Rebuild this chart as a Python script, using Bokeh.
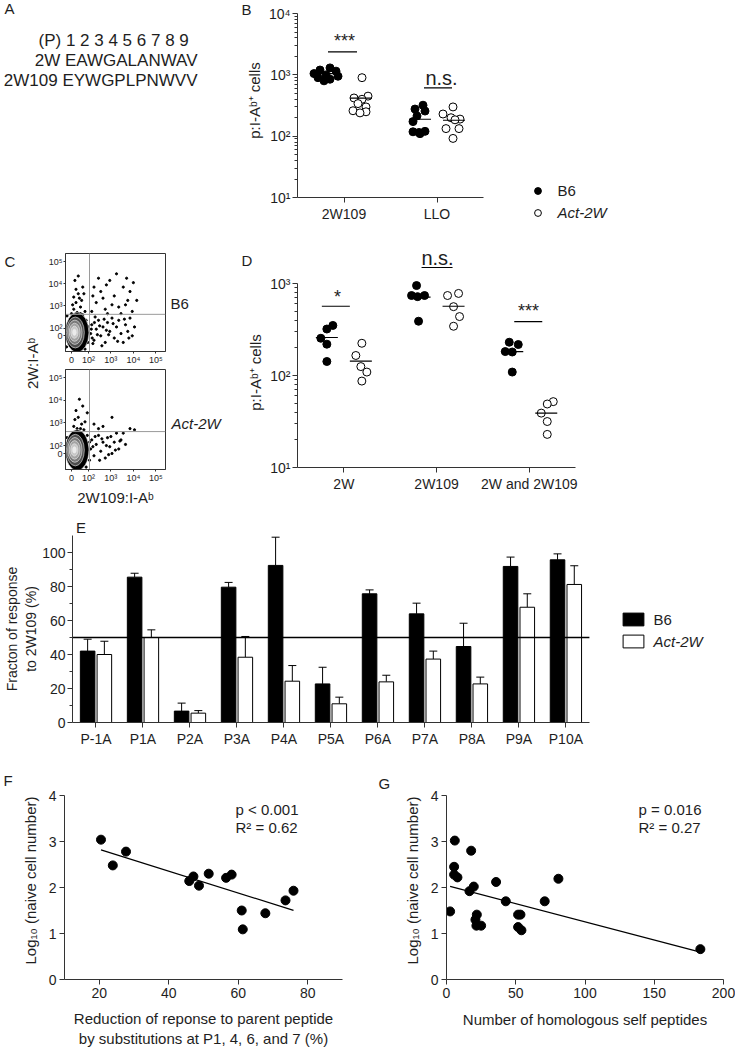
import numpy as np
from bokeh.plotting import figure
from bokeh.layouts import column, row
from bokeh.models import (Label, Legend, LegendItem, FixedTicker, Range1d,
                          Whisker, ColumnDataSource, TeeHead)
from bokeh.core.properties import value
from bokeh.embed import file_html
from bokeh.resources import INLINE

FONT = "Liberation Sans"
INK = "#1e1e1e"
AX = "#333333"

# ---------------- data ----------------
# Panel A
seq_header = "(P)  1 2 3 4 5 6 7 8 9"
seq_2w = "2W EAWGALANWAV"
seq_2w109 = "2W109 EYWGPLPNWVV"

# Panel B (p:I-Ab+ cells)
b_groups = ["2W109", "LLO"]
b_b6_2w109 = [1300, 1200, 1150, 1050, 1000, 950, 900, 850, 800]
b_act_2w109 = [900, 450, 420, 400, 340, 300, 260, 250, 240]
b_b6_llo = [320, 277, 257, 214, 173, 120, 115, 118, 110]
b_act_llo = [300, 230, 200, 190, 185, 133, 133, 92]
b_b6_mean = [1050, 189]
b_act_mean = [417, 182]
b_sig = ["***", "n.s."]
b_sig_y = [2380, 612]

# Panel D
d_groups = ["2W", "2W109", "2W and 2W109"]
d_b6_2w = [350, 320, 254, 219, 142]
d_act_2w = [224, 165, 125, 109, 87]
d_b6_2w109 = [950, 740, 720, 740, 389]
d_act_2w109 = [740, 780, 560, 437, 343]
d_b6_both = [230, 217, 182, 180, 109]
d_act_both = [52, 49, 39, 31.6, 22.9]
d_b6_mean = [259, 710, 182]
d_act_mean = [143, 566, 39]
d_sig = ["*", "n.s.", "***"]
d_sig_y = [566, 1493, 386]

# Panel E
e_peptides = ["P-1A", "P1A", "P2A", "P3A", "P4A", "P5A", "P6A", "P7A", "P8A", "P9A", "P10A"]
e_b6 = [42, 85.5, 6.7, 79.6, 92.4, 22.7, 75.7, 63.9, 44.7, 91.8, 95.7]
e_b6_sem = [7, 2.3, 4.7, 2.8, 16.6, 9.8, 2.3, 6.3, 13.7, 5.5, 3.5]
e_act = [40, 50, 5.5, 38.4, 24.3, 11, 23.9, 37.3, 22.7, 67.8, 81.2]
e_act_sem = [7.8, 4.5, 1.5, 12.2, 9.2, 3.9, 3.9, 4.7, 4.0, 7.9, 11.0]
e_threshold = 50

# Panel F
f_reduction = [20.5, 23.9, 27.7, 45.9, 47.1, 48.7, 51.5, 56.5, 58.1, 61.0, 61.3, 67.8, 73.6, 75.9]
f_log_naive = [3.04, 2.48, 2.78, 2.14, 2.24, 2.04, 2.30, 2.21, 2.28, 1.50, 1.09, 1.44, 1.72, 1.93]
f_stats = ["p < 0.001", "R\u00b2 = 0.62"]

# Panel G
g_homologs = [6.0, 17.8, 5.5, 5.5, 7.9, 2.6, 16.6, 19.7, 35.8, 21.9, 20.9, 21.6, 25.0,
              42.8, 51.7, 53.4, 51.7, 54.1, 70.9, 80.8, 183.3]
g_log_naive = [3.02, 2.80, 2.45, 2.28, 2.22, 1.48, 1.92, 2.02, 2.12, 1.41, 1.30, 1.17, 1.17,
               1.70, 1.41, 1.41, 1.14, 1.07, 1.70, 2.19, 0.66]
g_stats = ["p = 0.016", "R\u00b2 = 0.27"]

# Panel C (flow cytometry, display units)
flow_x_ticks = [0, 0.75, 1.75, 2.75, 3.75]
flow_y_ticks = [0, 0.35, 1.35, 2.35, 3.35]
flow_tick_labels = ["0", "10\u00b2", "10\u00b3", "10\u2074", "10\u2075"]
flow_gate_x = 0.8
flow_gate_y = 0.97
flow_b6_events = [
    (0.1, 1.2), (0.2, 1.5), (0.3, 1.9), (0.4, 1.3), (0.5, 2.2), (0.15, 2.5), (0.35, 1.7),
    (0.6, 1.1), (0.25, 1.05), (0.45, 1.6), (0.05, 1.4), (0.55, 1.9), (0.3, 2.7), (0.4, 1.0),
    (0.2, 2.1), (0.1, 1.75),
    (0.9, 1.1), (1.1, 1.5), (1.3, 2.0), (1.5, 1.2), (1.7, 2.5), (1.9, 1.8), (2.1, 1.3),
    (2.3, 2.2), (2.5, 1.6), (2.7, 1.1), (1.2, 2.6), (1.6, 1.0), (2.0, 2.8), (2.4, 1.4),
    (1.8, 1.4), (1.4, 1.7), (2.6, 2.0), (1.0, 2.2), (2.2, 1.0), (2.9, 1.6), (1.55, 2.3),
    (2.45, 2.6), (0.95, 1.8), (2.75, 2.4),
    (0.85, 0.1), (0.9, 0.5), (1.0, -0.2), (1.1, 0.3), (1.2, 0.7), (1.3, 0.0), (1.4, 0.4),
    (1.5, -0.3), (1.6, 0.6), (1.7, 0.2), (1.8, 0.8), (1.9, -0.1), (2.0, 0.4), (2.1, 0.7),
    (2.2, 0.1), (2.3, -0.3), (2.4, 0.5), (2.5, 0.2), (2.6, 0.8), (2.7, 0.0), (2.8, 0.4),
    (1.05, 0.85), (1.35, -0.45), (1.55, 0.25), (0.95, -0.35), (1.25, 0.45), (1.65, 0.05),
    (1.85, 0.55), (2.05, -0.25), (1.45, 0.75), (0.88, 0.3), (0.92, -0.1), (1.02, 0.6),
    (1.15, 0.05), (2.35, 0.75), (2.55, -0.1),
    (-0.2, 0.9), (0.65, 0.7), (0.7, 0.1), (0.72, -0.3), (-0.22, -0.5), (0.6, -0.6),
    (0.0, 1.0), (0.5, 0.95), (0.75, 0.4), (-0.25, 0.3),
]
flow_act_events = [
    (0.1, 1.2), (0.3, 1.6), (0.5, 2.1), (0.2, 1.9), (0.4, 1.1), (0.6, 1.4), (0.35, 2.4),
    (0.55, 1.05), (0.7, 1.8), (0.15, 1.5), (0.45, 1.3), (0.25, 1.1),
    (1.0, 1.3), (1.2, 1.1), (1.8, 1.6), (2.6, 1.1), (2.8, 1.05), (1.4, 1.2),
    (0.85, 0.2), (0.9, 0.6), (1.0, -0.1), (1.1, 0.4), (1.2, 0.8), (1.3, 0.1), (1.4, 0.5),
    (1.5, -0.2), (1.6, 0.7), (1.7, 0.3), (1.8, 0.0), (1.9, 0.5), (2.0, 0.9), (2.1, 0.2),
    (2.2, 0.6), (2.3, 0.9), (2.4, 0.4), (1.05, 0.75), (1.25, -0.3), (1.55, 0.35),
    (1.75, 0.75), (1.95, 0.15), (2.15, 0.55), (0.95, 0.3), (1.35, 0.65), (1.65, -0.05),
    (0.7, 0.8), (0.75, 0.2), (0.8, -0.3), (-0.2, 0.7), (0.65, -0.6), (0.8, 0.5),
]
flow_contour_cx = [0.25, 0.17, 0.15, 0.14, 0.13, 0.13]
flow_contour_cy = [0.15, 0.15, 0.16, 0.16, 0.16, 0.16]
flow_contour_w = [1.05, 0.80, 0.64, 0.48, 0.32, 0.16]
flow_contour_h = [1.80, 1.40, 1.10, 0.82, 0.55, 0.28]
flow_contour_fill = ["#000000", "#4d4d4d", "#7a7a7a", "#a3a3a3", "#c8c8c8", "#ebebeb"]

# ------------- jitter / layout (pixels) -------------
b_b6_dx = [[-14, -24, -8, -30, -18, -6, -26, -14, -20], [-14, -22, -12, -20, -24, -12, -18, -24, -17]]
b_act_dx = [[18, 24, 10, 18, 14, 22, 9, 22, 16], [16, 6, 14, 23, 18, 9, 22, 16]]
d_b6_dx = [[-11, -17, -23, -17, -17], [-20, -25, -19, -12, -18], [-20, -11, -24, -17, -17]]
d_act_dx = [[18, 12, 17, 23, 18], [11, 22, 17, 23, 17], [24, 18, 12, 18, 18]]
MEAN_OFF = 17
MEAN_HW = 11


def base_fig(w, h, xr, yr, borders, axes=True, **kw):
    l, r, t, b = borders
    opts = dict(width=w, height=h, x_range=xr, y_range=yr,
                min_border_left=l, min_border_right=r, min_border_top=t, min_border_bottom=b,
                output_backend="svg", toolbar_location=None)
    if not axes:
        opts.update(x_axis_location=None, y_axis_location=None)
    opts.update(kw)
    p = figure(**opts)
    p.outline_line_color = None
    p.grid.visible = False
    p.background_fill_color = "white"
    p.border_fill_color = "white"
    return p


def make_fig(box, frame, xr, yr, **kw):
    x0, y0, x1, y1 = box
    fl, ft, fr, fb = frame
    return base_fig(x1 - x0, y1 - y0, xr, yr, (fl - x0, x1 - fr, ft - y0, y1 - fb), **kw)


def canvas(box, top=0, bottom=0):
    # text-only panel; data coordinates equal page pixels inside its frame
    x0, y0, x1, y1 = box
    return base_fig(x1 - x0, y1 - y0, Range1d(x0, x1), Range1d(y1 - bottom, y0 + top),
                    (0, 0, top, bottom), axes=False)


def ctext(p, s, x, y, size=14, align="left", baseline="middle", angle=0.0, style="normal"):
    p.text(x=[x], y=[y], text=[s], angle=angle, text_font=value(FONT),
           text_font_size=value(f"{size}px"), text_align=align, text_baseline=baseline,
           text_font_style=style, text_color=INK)


def style_axis(ax, size=14, tick_out=5, standoff=3):
    ax.axis_line_color = AX
    ax.major_tick_line_color = AX
    ax.minor_tick_line_color = AX
    ax.major_tick_in = 0
    ax.major_tick_out = tick_out
    ax.minor_tick_in = 0
    ax.minor_tick_out = max(2, tick_out - 2)
    ax.major_label_text_font = FONT
    ax.major_label_text_font_size = f"{size}px"
    ax.major_label_text_color = INK
    ax.major_label_standoff = standoff
    ax.axis_label_text_font = FONT
    ax.axis_label_text_font_style = "normal"
    ax.axis_label_text_color = INK


def set_title(ax, text, size=15, standoff=5):
    ax.axis_label = text
    ax.axis_label_text_font_size = f"{size}px"
    ax.axis_label_standoff = standoff


def txt(p, frame, s, rx, ry, size=14, align="left", baseline="middle", angle=0.0, style="normal"):
    fl, ft, fr, fb = frame
    p.add_layout(Label(x=rx - fl, y=fb - ry, x_units="screen", y_units="screen", text=s,
                       angle=angle, text_font=FONT, text_font_size=f"{size}px",
                       text_align=align, text_baseline=baseline, text_font_style=style,
                       text_color=INK))


def add_leg(p, r, label, loc, gw, gh, standoff, lh, style="normal", size=15):
    leg = Legend(items=[LegendItem(label=label, renderers=[r])], location=loc,
                 glyph_width=gw, glyph_height=gh, label_standoff=standoff,
                 label_height=lh, label_width=10, padding=0, margin=0, spacing=0,
                 border_line_color=None, background_fill_alpha=0,
                 label_text_font=FONT, label_text_font_size=f"{size}px",
                 label_text_font_style=style, label_text_color=INK)
    p.add_layout(leg)


def dot_panel(p, ppu, b6_lists, act_lists, b6_dx, act_dx, b6_mean, act_mean, msize=8):
    fx, fy, ox, oy = [], [], [], []
    for i, (vals, dxs) in enumerate(zip(b6_lists, b6_dx)):
        fx += [i + 1 + d / ppu for d in dxs]
        fy += list(vals)
    for i, (vals, dxs) in enumerate(zip(act_lists, act_dx)):
        ox += [i + 1 + d / ppu for d in dxs]
        oy += list(vals)
    p.scatter(fx, fy, size=msize, fill_color="black", line_color="black")
    p.scatter(ox, oy, size=msize, fill_color="white", line_color="black", line_width=1)
    cx = np.arange(1, len(b6_mean) + 1)
    p.segment(x0=cx + (-MEAN_OFF - MEAN_HW) / ppu, x1=cx + (-MEAN_OFF + MEAN_HW) / ppu,
              y0=b6_mean, y1=b6_mean, line_color="black", line_width=1.2)
    p.segment(x0=cx + (MEAN_OFF - MEAN_HW) / ppu, x1=cx + (MEAN_OFF + MEAN_HW) / ppu,
              y0=act_mean, y1=act_mean, line_color="black", line_width=1.2)


def log_ticks(lo, hi):
    major = [10 ** e for e in range(lo, hi + 1)]
    minor = [k * 10 ** e for e in range(lo, hi) for k in range(2, 10)]
    return major, minor


SUP = {1: "\u00b9", 2: "\u00b2", 3: "\u00b3", 4: "\u2074", 5: "\u2075"}
CELLS = "p:I-A\u1d47\u207a cells"

# ================= Row 1: A, B, legend =================
pA = canvas((0, 0, 265, 245), bottom=48)
ctext(pA, "A", 4, 8, 15)
ctext(pA, seq_header, 38, 40, 17)
ctext(pA, seq_2w, 197, 60, 17, align="right")
ctext(pA, seq_2w109, 197, 80, 17, align="right")
ctext(pA, "B", 241, 9, 15)
ctext(pA, CELLS, 253.5, 100, 15, align="center", angle=np.pi / 2)

B_box = (265, 0, 500, 245)
B_frame = (297, 0, 500, 197)
B_ppu = 93.0
B_dec = 61.0
pB = make_fig(B_box, B_frame, Range1d(0.5, 0.5 + (B_frame[2] - B_frame[0]) / B_ppu),
              Range1d(10, 10 ** (4 + 13 / B_dec)), y_axis_type="log")
maj, mnr = log_ticks(1, 4)
pB.yaxis.ticker = FixedTicker(ticks=maj, minor_ticks=mnr)
pB.yaxis.major_label_overrides = {10 ** e: "10" + SUP[e] for e in range(1, 5)}
pB.yaxis.bounds = (10, 10000)
pB.xaxis.ticker = FixedTicker(ticks=[1, 2], minor_ticks=[])
pB.xaxis.major_label_overrides = {i + 1: g for i, g in enumerate(b_groups)}
pB.xaxis.bounds = (0.5, 2.5)
style_axis(pB.xaxis)
style_axis(pB.yaxis, standoff=2)
dot_panel(pB, B_ppu, [b_b6_2w109, b_b6_llo], [b_act_2w109, b_act_llo],
          b_b6_dx, b_act_dx, b_b6_mean, b_act_mean)
b_sig_dx = [(-16, 13), (-13, 15)]
for i, (a, b) in enumerate(b_sig_dx):
    pB.segment(x0=[i + 1 + a / B_ppu], x1=[i + 1 + b / B_ppu], y0=[b_sig_y[i]], y1=[b_sig_y[i]],
               line_color="black", line_width=1.2)
txt(pB, B_frame, b_sig[0], 344, 40, 18, align="center")
txt(pB, B_frame, b_sig[1], 441, 77, 20, align="center")

pBL = canvas((500, 0, 735, 245))
lf = pBL.scatter(x=[np.nan], y=[np.nan], size=8, fill_color="black", line_color="black")
lo = pBL.scatter(x=[np.nan], y=[np.nan], size=8, fill_color="white", line_color="black", line_width=1)
add_leg(pBL, lf, "B6", (528.5 - 500, 245 - 198.5), 17, 17, 12, 17)
add_leg(pBL, lo, "Act-2W", (528.5 - 500, 245 - 220.5), 17, 17, 12, 17, style="italic")

# ================= Row 2: C, D =================
pCt = canvas((0, 245, 43, 520), bottom=53)
ctext(pCt, "C", 4, 261, 15)
ctext(pCt, "2W:I-A\u1d47", 32, 363, 15, align="center", angle=np.pi / 2)


def flow_fig(box, frame, events):
    p = make_fig(box, frame, Range1d(-0.267, 4.178), Range1d(-0.708, 3.717))
    p.outline_line_color = AX
    p.xaxis.ticker = FixedTicker(ticks=flow_x_ticks, minor_ticks=[])
    p.yaxis.ticker = FixedTicker(ticks=flow_y_ticks, minor_ticks=[])
    p.xaxis.major_label_overrides = dict(zip(flow_x_ticks, flow_tick_labels))
    p.yaxis.major_label_overrides = dict(zip(flow_y_ticks, flow_tick_labels))
    for ax in (p.xaxis, p.yaxis):
        style_axis(ax, size=9, tick_out=2, standoff=1)
    ex, ey = zip(*events)
    p.scatter(list(ex), list(ey), size=2.2, color="black")
    p.ellipse(x=flow_contour_cx, y=flow_contour_cy, width=flow_contour_w, height=flow_contour_h,
              fill_color=flow_contour_fill, line_color="#eeeeee", line_width=0.6)
    p.segment(x0=[flow_gate_x], x1=[flow_gate_x], y0=[-0.708], y1=[3.717],
              line_color="#9a9a9a", line_width=1)
    p.segment(x0=[-0.267], x1=[4.178], y0=[flow_gate_y], y1=[flow_gate_y],
              line_color="#9a9a9a", line_width=1)
    return p


pFt = flow_fig((43, 245, 167, 367), (65, 253, 165, 353), flow_b6_events)
pFb = flow_fig((43, 367, 167, 520), (65, 369, 165, 469), flow_act_events)
set_title(pFb.xaxis, "2W109:I-A\u1d47", 15, 3)

pCl = canvas((167, 245, 265, 520), bottom=53)
ctext(pCl, "B6", 170, 303, 15)
ctext(pCl, "Act-2W", 171, 423, 15, style="italic")
ctext(pCl, "D", 241, 260, 15)
ctext(pCl, CELLS, 255, 372, 15, align="center", angle=np.pi / 2)

D_box = (265, 245, 735, 520)
D_frame = (297, 245, 735, 467)
D_ppu = 92.7
D_dec = 92.0
pD = make_fig(D_box, D_frame, Range1d(0.5, 0.5 + (D_frame[2] - D_frame[0]) / D_ppu),
              Range1d(10, 10 ** (3 + (283 - 245) / D_dec)), y_axis_type="log")
maj, mnr = log_ticks(1, 3)
pD.yaxis.ticker = FixedTicker(ticks=maj, minor_ticks=mnr)
pD.yaxis.major_label_overrides = {10 ** e: "10" + SUP[e] for e in range(1, 4)}
pD.yaxis.bounds = (10, 1000)
pD.xaxis.ticker = FixedTicker(ticks=[1, 2, 3], minor_ticks=[])
pD.xaxis.major_label_overrides = {i + 1: g for i, g in enumerate(d_groups)}
pD.xaxis.bounds = (0.5, 3.5)
style_axis(pD.xaxis)
style_axis(pD.yaxis, standoff=2)
dot_panel(pD, D_ppu, [d_b6_2w, d_b6_2w109, d_b6_both], [d_act_2w, d_act_2w109, d_act_both],
          d_b6_dx, d_act_dx, d_b6_mean, d_act_mean)
d_sig_dx = [(-22, 6), (-15, 16), (-15, 13)]
for i, (a, b) in enumerate(d_sig_dx):
    pD.segment(x0=[i + 1 + a / D_ppu], x1=[i + 1 + b / D_ppu], y0=[d_sig_y[i]], y1=[d_sig_y[i]],
               line_color="black", line_width=1.2)
txt(pD, D_frame, d_sig[0], 337, 296, 18, align="center")
txt(pD, D_frame, d_sig[1], 437, 257, 20, align="center")
txt(pD, D_frame, d_sig[2], 528, 310, 18, align="center")

# ================= Row 3: E =================
pEl = canvas((0, 520, 735, 535))
ctext(pEl, "E", 4, 527, 15)

E_box = (0, 535, 735, 770)
E_frame = (62, 535, 735, 722)
E_ppu = 47.7
pE = make_fig(E_box, E_frame, Range1d(0.5, 0.5 + (E_frame[2] - E_frame[0]) / E_ppu),
              Range1d(0, 110))
pE.yaxis.ticker = FixedTicker(ticks=[0, 20, 40, 60, 80, 100], minor_ticks=[10, 30, 50, 70, 90])
pE.xaxis.ticker = FixedTicker(ticks=list(range(1, 12)), minor_ticks=[])
pE.xaxis.major_label_overrides = {i + 1: c for i, c in enumerate(e_peptides)}
pE.xaxis.bounds = (0.5, 11.5)
style_axis(pE.xaxis)
style_axis(pE.yaxis, size=14, standoff=2)
set_title(pE.yaxis, "Fracton of response\nto 2W109 (%)", 14, 0)
cx = np.arange(1, len(e_peptides) + 1)
xb6 = cx - 0.178
xact = cx + 0.178
rEb = pE.vbar(x=xb6, top=e_b6, width=0.31, fill_color="black", line_color="black")
rEa = pE.vbar(x=xact, top=e_act, width=0.31, fill_color="white", line_color="black", line_width=1)
for xs, tops, sem in ((xb6, e_b6, e_b6_sem), (xact, e_act, e_act_sem)):
    src = ColumnDataSource(dict(x=xs, lower=tops, upper=[t + s for t, s in zip(tops, sem)]))
    pE.add_layout(Whisker(source=src, base="x", lower="lower", upper="upper", dimension="height",
                          line_color="black", line_width=1, lower_head=None,
                          upper_head=TeeHead(size=8, line_color="black", line_width=1)))
pE.segment(x0=[0.5], x1=[11.5], y0=[e_threshold], y1=[e_threshold], line_color="black", line_width=1.5)
add_leg(pE, rEb, "B6", (609.5 - 62, 722 - 627.5), 26, 16, 8, 16)
add_leg(pE, rEa, "Act-2W", (609.5 - 62, 722 - 649.5), 26, 16, 8, 16, style="italic")

# ================= Row 4: F, G =================
LOGN = "Log\u2081\u2080 (naive cell number)"
pFl = canvas((0, 770, 40, 1049), bottom=70)
ctext(pFl, "F", 3, 780, 15)
ctext(pFl, LOGN, 30, 880, 15, align="center", angle=np.pi / 2)

F_box = (40, 770, 365, 1049)
F_frame = (64, 770, 342, 979)
F_ppu_y = 46.0
pF = make_fig(F_box, F_frame, Range1d(10, 90), Range1d(0, 4 + 25 / F_ppu_y))
pF.xaxis.ticker = FixedTicker(ticks=[20, 40, 60, 80], minor_ticks=[])
pF.yaxis.ticker = FixedTicker(ticks=[0, 1, 2, 3, 4], minor_ticks=[])
pF.yaxis.bounds = (0, 4)
style_axis(pF.xaxis)
style_axis(pF.yaxis)
set_title(pF.xaxis, "Reduction of reponse to parent peptide\nby substitutions at P1, 4, 6, and 7 (%)", 15, 9)
pF.scatter(f_reduction, f_log_naive, size=9, color="black")
cf = np.polyfit(f_reduction, f_log_naive, 1)
fxl = np.array([min(f_reduction), max(f_reduction)])
pF.line(fxl, np.polyval(cf, fxl), line_color="black", line_width=1.2)
txt(pF, F_frame, f_stats[0], 235, 809, 15)
txt(pF, F_frame, f_stats[1], 235, 827, 15)

pGl = canvas((365, 770, 425, 1049), bottom=70)
ctext(pGl, "G", 378, 783, 15)
ctext(pGl, LOGN, 412, 880, 15, align="center", angle=np.pi / 2)

G_box = (425, 770, 735, 1049)
G_frame = (446, 770, 723, 979)
pG = make_fig(G_box, G_frame, Range1d(0, 200), Range1d(0, 4 + 25 / F_ppu_y))
pG.xaxis.ticker = FixedTicker(ticks=[0, 50, 100, 150, 200], minor_ticks=[])
pG.yaxis.ticker = FixedTicker(ticks=[0, 1, 2, 3, 4], minor_ticks=[])
pG.yaxis.bounds = (0, 4)
style_axis(pG.xaxis)
style_axis(pG.yaxis)
set_title(pG.xaxis, "Number of homologous self peptides", 15, 10)
pG.scatter(g_homologs, g_log_naive, size=9, color="black")
cg = np.polyfit(g_homologs, g_log_naive, 1)
gxl = np.array([min(g_homologs), max(g_homologs)])
pG.line(gxl, np.polyval(cg, gxl), line_color="black", line_width=1.2)
txt(pG, G_frame, g_stats[0], 638, 809, 15)
txt(pG, G_frame, g_stats[1], 638, 827, 15)

layout = column(
    row(pA, pB, column(pBL)),
    row(pCt, column(pFt, pFb), pCl, pD),
    pEl,
    pE,
    row(pFl, pF, pGl, pG),
)
open("out.html", "w").write(file_html(layout, INLINE))
